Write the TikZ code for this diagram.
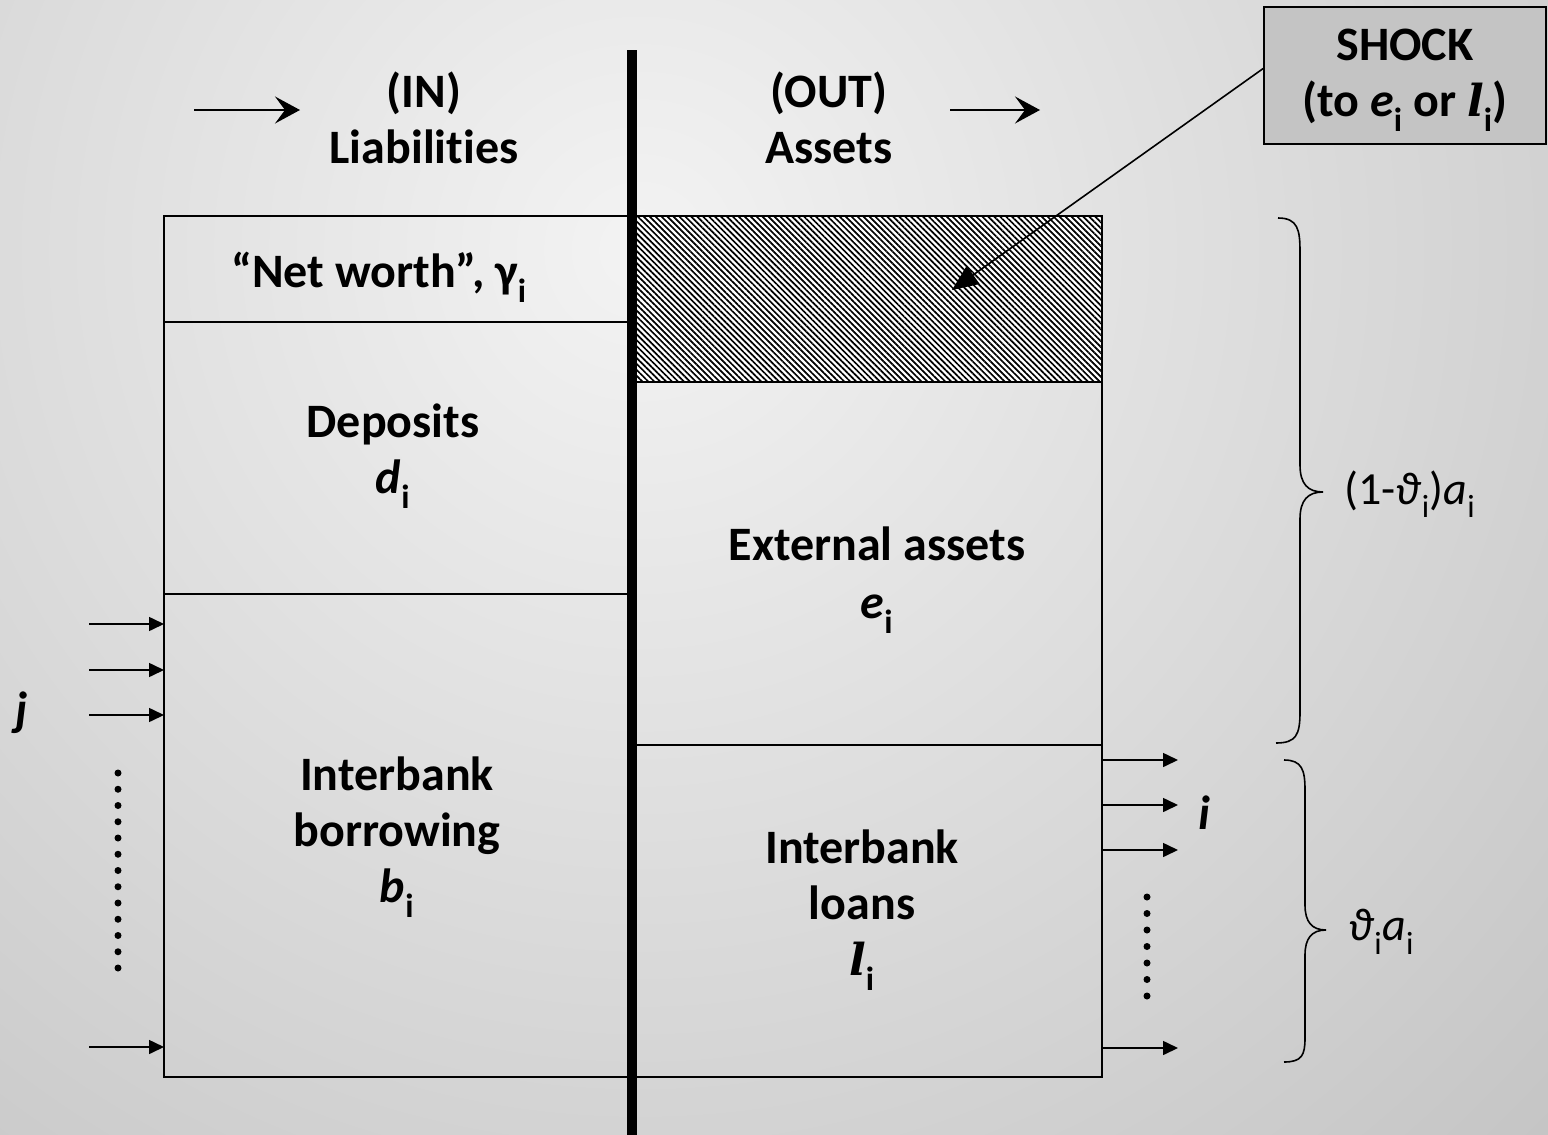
\documentclass[tikz,border=0pt]{standalone}
\usepackage{fontspec}
\setmainfont[Ligatures=NoCommon]{Carlito}
\newfontfamily\serifface{DejaVu Serif}
\usetikzlibrary{arrows.meta,patterns.meta}
\newcommand{\sbi}{\textsubscript{\upshape i}}
\newcommand{\myell}{{\serifface\bfseries\itshape\fontsize{44}{56}\selectfont l}}
\begin{document}
\begin{tikzpicture}[x=1pt,y=-1pt,
  lbl/.style={font=\fontsize{48}{56}\selectfont\bfseries, align=center, inner sep=0},
  brlbl/.style={font=\fontsize{46}{52}\selectfont, anchor=west, inner sep=0},
  box/.style={draw, line width=1.6pt},
  inarrow/.style={line width=1.6pt, -{Triangle[length=15pt,width=14pt]}},
  toparrow/.style={line width=1.6pt, -{Stealth[length=25pt,width=27pt,inset=10pt]}},
  dot/.style={circle, fill=black, inner sep=0, minimum size=7pt},
  bracestyle/.style={line width=1.6pt}
]
\useasboundingbox (0,0) rectangle (1548,1135);
% background
\begin{scope}
\clip (0,0) rectangle (1548,1135);
\shade[inner color={rgb,255:red,243;green,243;blue,243}, outer color={rgb,255:red,163;green,163;blue,163}] (640,250) circle (2200);
\end{scope}

% hatched shock area
\fill[white] (632,216) rectangle (1102,382);
\fill[pattern={Lines[angle=-45,distance=4.2pt,line width=1.7pt]}] (632,216) rectangle (1102,382);

% boxes
\draw[box] (164,216) rectangle (632,1077);
\draw[box] (164,322) -- (632,322);
\draw[box] (164,594) -- (632,594);
\draw[box] (632,216) rectangle (1102,1077);
\draw[box] (632,382) -- (1102,382);
\draw[box] (632,745) -- (1102,745);

% thick divider
\coordinate (divtop) at (632,50);
\coordinate (divbot) at (632,1135);
\draw[line width=10pt] (divtop) -- (divbot);

% headings
\node[lbl] (inlbl) at (424,118) {(IN)\\Liabilities};
\node[lbl] (outlbl) at (829,118) {(OUT)\\Assets};
\coordinate (ta1s) at (194,110); \coordinate (ta1e) at (300,110);
\coordinate (ta2s) at (950,110); \coordinate (ta2e) at (1040,110);
\draw[toparrow] (ta1s) -- (ta1e);
\draw[toparrow] (ta2s) -- (ta2e);

% box labels
\node[lbl] (networth) at (379,277) {“Net worth”, γ\sbi};
\node[lbl] (deposits) at (393,456) {Deposits\\\textit{d}\sbi};
\node[lbl] (borrow) at (397,837) {Interbank\\borrowing\\\textit{b}\sbi};
\node[lbl] (external) at (877,580) {External assets\\[2pt]\textit{e}\sbi};
\node[lbl] (loans) at (862,910) {Interbank\\loans\\\myell\sbi};

% shock box
\node[lbl, draw, line width=1.6pt, fill={rgb,255:red,196;green,196;blue,196}, minimum width=282pt, minimum height=137pt] (shock) at (1405,75.5) {};
\node[lbl] (shocktxt) at (1405,80) {SHOCK\\(to \textit{e}\sbi\ or \myell\sbi)};
\coordinate (shocktip) at (952,290);
\draw[line width=1.6pt, -{Triangle[length=26pt,width=22pt]}] ([yshift=7pt]shock.west) -- (shocktip);

% incoming arrows (left)
\foreach \y/\n in {624/a,670/b,715/c,1047/d}{
  \coordinate (lin\n) at (89,\y);
  \coordinate (lend\n) at (164,\y);
  \draw[inarrow] (lin\n) -- (lend\n);
}
\node[lbl, font=\fontsize{48}{56}\selectfont\bfseries\itshape] (jlbl) at (22,713) {j};
\foreach \k in {0,...,12}{
  \node[dot] (ld\k) at (118,773+16.25*\k) {};
}

% outgoing arrows (right)
\foreach \y/\n in {760/a,805/b,850/c,1048/d}{
  \coordinate (rst\n) at (1102,\y);
  \coordinate (rend\n) at (1178,\y);
  \draw[inarrow] (rst\n) -- (rend\n);
}
\node[lbl, font=\fontsize{48}{56}\selectfont\bfseries\itshape] (ilbl) at (1204,813) {i};
\foreach \k in {0,...,6}{
  \node[dot] (rd\k) at (1147,897+16.5*\k) {};
}

% braces
\draw[bracestyle] (1278,218) .. controls (1298,218) and (1300,230) .. (1300,252)
  -- (1300,465) .. controls (1300,484) and (1308,492) .. (1323,492)
  .. controls (1308,492) and (1300,500) .. (1300,519)
  -- (1300,712) .. controls (1300,735) and (1296,743) .. (1276,743);
\node[brlbl] (br1lbl) at (1344,494) {(1-\textit{ϑ}\sbi)\textit{a}\sbi};

\draw[bracestyle] (1284,760) .. controls (1302,760) and (1305,770) .. (1305,790)
  -- (1305,905) .. controls (1305,922) and (1312,930) .. (1326,930)
  .. controls (1312,930) and (1305,938) .. (1305,955)
  -- (1305,1038) .. controls (1305,1055) and (1302,1062) .. (1284,1062);
\node[brlbl] (br2lbl) at (1348,932) {\textit{ϑ}\sbi\textit{a}\sbi};
\end{tikzpicture}
\end{document}
